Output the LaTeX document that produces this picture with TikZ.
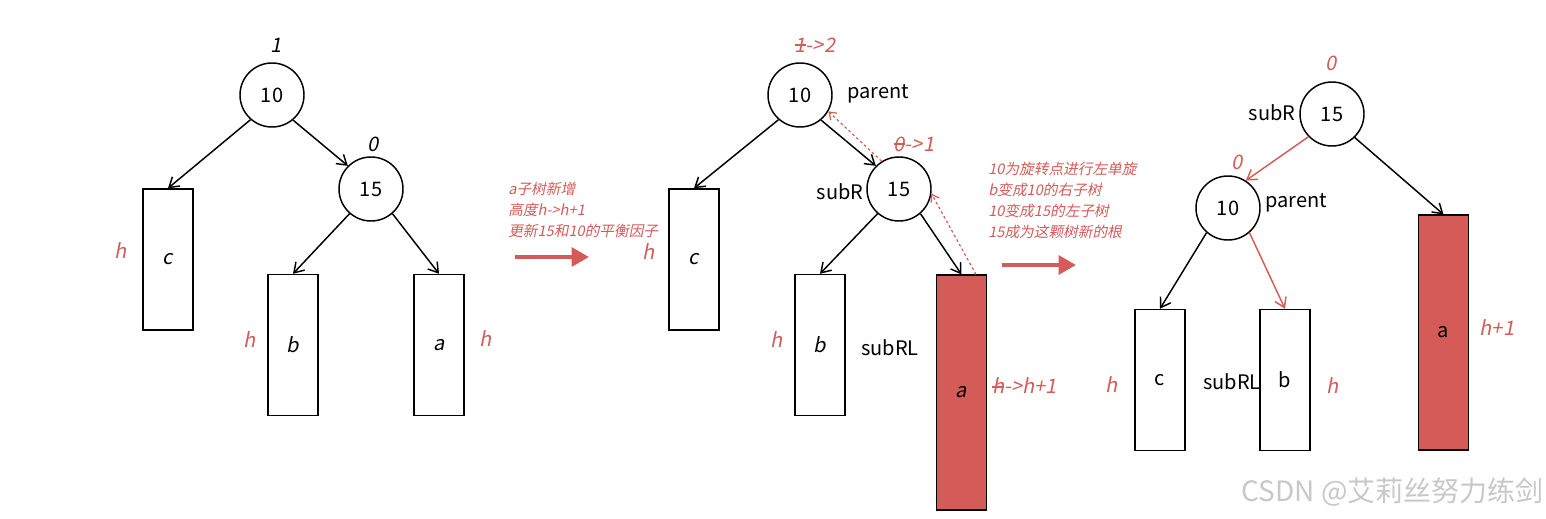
\documentclass[tikz,border=0pt]{standalone}
\usepackage{fontspec}
\setmainfont{Noto Sans CJK SC}
\newfontfamily\itf[FakeSlant=0.2]{Noto Sans CJK SC}
\usetikzlibrary{arrows.meta}
\definecolor{rd}{RGB}{212,91,88}
\definecolor{wm}{RGB}{200,200,200}
\newcommand\strk[1]{\setbox0\hbox{#1}\rlap{\rule[0.32em]{\wd0}{0.07em}}#1}
\begin{document}
\begin{tikzpicture}[x=0.75pt,y=-0.75pt,
  nd/.style={draw,circle,line width=1.1pt,minimum size=48pt,inner sep=0pt,font=\fontsize{15}{18}\selectfont},
  bx/.style={draw,line width=1.1pt,minimum width=37.5pt,minimum height=105.75pt,inner sep=0pt,font=\fontsize{15}{18}\selectfont},
  rbx/.style={bx,fill=rd,minimum height=176pt},
  lbl/.style={font=\fontsize{15}{18}\selectfont,inner sep=0pt},
  rl/.style={font=\fontsize{15}{18}\selectfont\itf,text=rd,inner sep=0pt},
  bl/.style={font=\fontsize{15}{18}\selectfont\itf,inner sep=0pt},
  note/.style={font=\fontsize{11}{15.8}\selectfont\itf,text=rd,align=left,inner sep=0pt,anchor=west},
  ar/.style={-{Straight Barb[length=7pt,width=9pt]},line width=1.1pt},
  rar/.style={ar,draw=rd},
  dar/.style={-{Straight Barb[length=5pt,width=7pt]},draw=rd,line width=0.9pt,dash pattern=on 2pt off 2pt},
  big/.style={-{Triangle[length=13pt,width=14pt]},draw=rd,line width=3pt}]
\useasboundingbox (0,0) rectangle (1546,518);
% ---------- tree 1
\node[nd] (a10) at (272,95) {10};
\node[nd] (a15) at (371,189) {15};
\node[bx] (ac) at (168,259.5) {\itf c};
\node[bx] (ab) at (293,345) {\itf b};
\node[bx] (aa) at (439,345) {\itf a};
\node[bl] (al1) at (276,45) {1};
\node[bl] (al0) at (373,144) {0};
\node[rl] (ah1) at (121,251) {h};
\node[rl] (ah2) at (250,340) {h};
\node[rl] (ah3) at (486,339) {h};
\draw[ar] (a10.-131) -- (ac.north);
\draw[ar] (a10.-50) -- (a15.135);
\draw[ar] (a15.-131) -- (ab.north);
\draw[ar] (a15.-49) -- (aa.north);
% ---------- note 1
\node[note] (n1) at (508,210) {a子树新增\\高度h->h+1\\更新15和10的平衡因子};
\coordinate (n1s) at (515,257);
\coordinate (n1e) at (589,257);
\draw[big] (n1s) -- (n1e);
% ---------- tree 2
\node[nd] (b10) at (800,95) {10};
\node[nd] (b15) at (899,189) {15};
\node[bx] (bc) at (694,259.5) {\itf c};
\node[bx] (bb) at (820,345) {\itf b};
\node[rbx] (ba) at (961.5,392.5) {\itf a};
\node[rl] (bl1) at (815,45) {\strk{1}->2};
\node[rl] (bl0) at (914,144) {\strk{0}->1};
\node[lbl] (bp) at (878,94) {parent};
\node[lbl] (bsr) at (840,192) {subR};
\node[lbl] (bsrl) at (890,348) {subRL};
\node[rl] (bh1) at (649,252) {h};
\node[rl] (bh2) at (777,340) {h};
\node[rl,anchor=west] (bh3) at (992,386) {\strk{h}->h+1};
\draw[ar] (b10.-131) -- (bc.north);
\draw[ar] (b10.-50) -- (b15.135);
\draw[ar] (b15.-131) -- (bb.north);
\draw[ar] (b15.-49) -- (ba.north);
\draw[dar] (b15.122) -- (b10.-30);
\draw[dar] (ba.83) -- (b15.-8);
% ---------- note 2
\node[note] (n2) at (988,200.5) {10为旋转点进行左单旋\\b变成10的右子树\\10变成15的左子树\\15成为这颗树新的根};
\coordinate (n2s) at (1002,265);
\coordinate (n2e) at (1076,265);
\draw[big] (n2s) -- (n2e);
% ---------- tree 3
\node[nd] (c15) at (1332,114) {15};
\node[nd] (c10) at (1228,208) {10};
\node[bx] (cc) at (1160,380) {c};
\node[bx] (cb) at (1285,380) {b};
\node[rbx] (ca) at (1443.5,332.5) {a};
\node[rl] (cl0) at (1331,63) {0};
\node[rl] (cl1) at (1237,162) {0};
\node[lbl] (csr) at (1272,113) {subR};
\node[lbl] (cp) at (1296,203) {parent};
\node[lbl] (csrl) at (1232,382) {subRL};
\node[rl] (ch1) at (1112,385) {h};
\node[rl] (ch2) at (1333,386) {h};
\node[rl] (ch3) at (1497,328) {h+1};
\draw[rar] (c15.-136) -- (c10.57);
\draw[ar] (c15.-46) -- (ca.north);
\draw[ar] (c10.-131) -- (cc.north);
\draw[rar] (c10.-49) -- (cb.north);
% ---------- watermark
\node[font=\fontsize{21}{24}\selectfont,text=wm,anchor=east,inner sep=0pt] (wmk) at (1544,492) {CSDN @艾莉丝努力练剑};
\end{tikzpicture}
\end{document}
